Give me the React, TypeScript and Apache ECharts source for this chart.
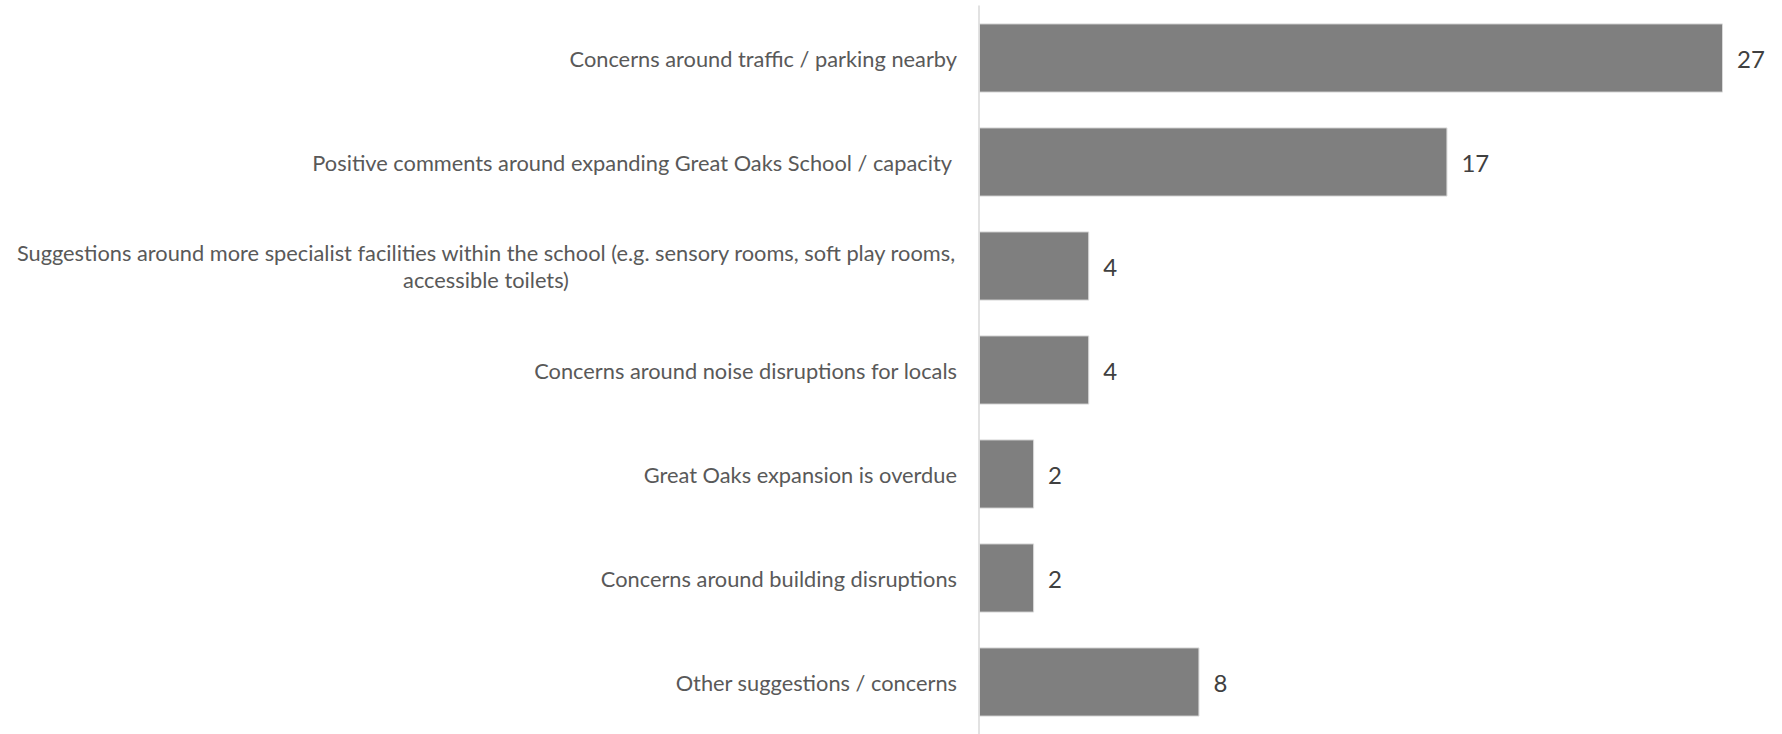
import React, { useEffect, useRef } from "react";
import * as echarts from "echarts";

const categories = [
  "Concerns around traffic / parking nearby",
  "Positive comments around expanding Great Oaks School / capacity ",
  "Suggestions around more specialist facilities within the school (e.g. sensory rooms, soft play rooms,\naccessible toilets)",
  "Concerns around noise disruptions for locals",
  "Great Oaks expansion is overdue",
  "Concerns around building disruptions",
  "Other suggestions / concerns",
];
const values = [27, 17, 4, 4, 2, 2, 8];

const LABEL_FONT = "Lato";
const LABEL_SIZE = 21.8;

function measure(text: string, size: number, family: string): number {
  const c = document.createElement("canvas");
  const ctx = c.getContext("2d");
  if (!ctx) return text.length * size * 0.5;
  ctx.font = `${size}px ${family}`;
  return ctx.measureText(text).width;
}

export default function App() {
  const ref = useRef<HTMLDivElement>(null);
  useEffect(() => {
    if (!ref.current) return;
    const chart = echarts.init(ref.current, undefined, { renderer: "svg" });
    const longest = Math.max(
      ...categories.map((c) => Math.max(...c.split("\n").map((l) => measure(l, LABEL_SIZE, LABEL_FONT))))
    );
    const w = Math.ceil(longest) + 2;
    chart.setOption({
      animation: false,
      grid: { left: 979, top: 6, height: 733, width: 744, containLabel: false },
      xAxis: {
        type: "value",
        min: 0,
        max: 27,
        show: false,
      },
      yAxis: {
        type: "category",
        inverse: true,
        data: categories,
        axisLine: { show: true, lineStyle: { color: "#d9d9d9", width: 1.5 } },
        axisTick: { show: false },
        axisLabel: {
          margin: 22,
          fontFamily: LABEL_FONT,
          fontSize: LABEL_SIZE,
          color: "#595959",
          lineHeight: 27,
          formatter: (v: string) => {
            if (v.indexOf("\n") < 0) return v;
            return v
              .split("\n")
              .map((l) => `{c|${l}}`)
              .join("\n");
          },
          rich: {
            c: {
              width: w,
              align: "center",
              fontFamily: LABEL_FONT,
              fontSize: LABEL_SIZE,
              color: "#595959",
              lineHeight: 27,
            },
          },
        },
      },
      series: [
        {
          type: "bar",
          data: values,
          barCategoryGap: "33.5%",
          itemStyle: { color: "#7f7f7f", borderColor: "#d9d9d9", borderWidth: 1 },
          label: {
            show: true,
            position: "right",
            distance: 14,
            fontFamily: LABEL_FONT,
            fontSize: 24,
            color: "#404040",
          },
        },
      ],
    });
    return () => chart.dispose();
  }, []);
  return (
    <div
      ref={ref}
      style={{ position: "absolute", left: 0, top: 0, width: 1782, height: 734 }}
    />
  );
}
